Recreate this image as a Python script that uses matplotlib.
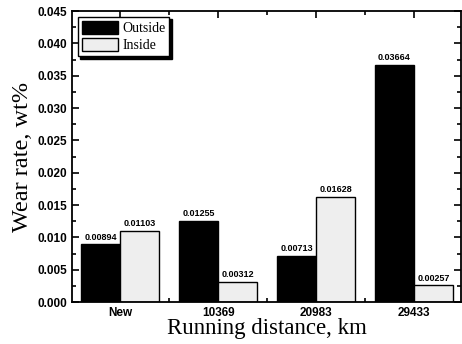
import matplotlib
matplotlib.use('Agg')
import matplotlib.pyplot as plt
import numpy as np
from matplotlib.ticker import MultipleLocator

# data
categories = ['New', '10369', '20983', '29433']
outside = [0.00894, 0.01255, 0.00713, 0.03664]
inside = [0.01103, 0.00312, 0.01628, 0.00257]

fig = plt.figure(figsize=(4.62, 3.44), dpi=100)
ax = fig.add_axes([0.156, 0.122, 0.842, 0.846])

x = np.arange(len(categories))
w = 0.4
b1 = ax.bar(x - w/2, outside, w, color='black', edgecolor='black', linewidth=1, label='Outside')
b2 = ax.bar(x + w/2, inside, w, color='#eeeeee', edgecolor='black', linewidth=1, label='Inside')

lbl = dict(ha='center', va='bottom', fontsize=6.5, fontweight='bold', family='Liberation Sans')
for xi, v in zip(x - w/2, outside):
    ax.text(xi, v + 0.0004, '%.5f' % v, **lbl)
for xi, v in zip(x + w/2, inside):
    ax.text(xi, v + 0.0004, '%.5f' % v, **lbl)

ax.set_xlim(-0.49, 3.48)
ax.set_ylim(0, 0.045)
ax.set_xticks(x)
ax.set_xticklabels(categories, fontsize=8.5, fontweight='bold', family='Liberation Sans')
ax.xaxis.set_minor_locator(MultipleLocator(0.5))
ax.yaxis.set_major_locator(MultipleLocator(0.005))
ax.yaxis.set_minor_locator(MultipleLocator(0.0025))
ax.yaxis.set_major_formatter(matplotlib.ticker.FormatStrFormatter('%.3f'))
for t in ax.get_yticklabels():
    t.set_fontsize(8.5)
    t.set_fontweight('bold')
    t.set_family('Liberation Sans')
ax.tick_params(which='both', direction='in', top=True, right=True, width=1.2)
ax.tick_params(which='major', length=5)
ax.tick_params(which='minor', length=3)
for s in ax.spines.values():
    s.set_linewidth(1.3)

ax.set_ylabel('Wear rate, wt%', fontsize=17.5, family='Liberation Serif', labelpad=3)
ax.set_xlabel('Running distance, km', fontsize=16.5, family='Liberation Serif', labelpad=-1)

leg = ax.legend(loc='upper left', prop={'family': 'Liberation Serif', 'size': 10},
                fancybox=False, shadow={'color': 'black', 'alpha': 1, 'ox': 2, 'oy': -2},
                edgecolor='black', framealpha=1, handlelength=2.6, handleheight=1.1,
                borderpad=0.3, labelspacing=0.2, handletextpad=0.3, borderaxespad=0.4)
leg.get_frame().set_linewidth(1)

fig.savefig('out.png', dpi=100)
